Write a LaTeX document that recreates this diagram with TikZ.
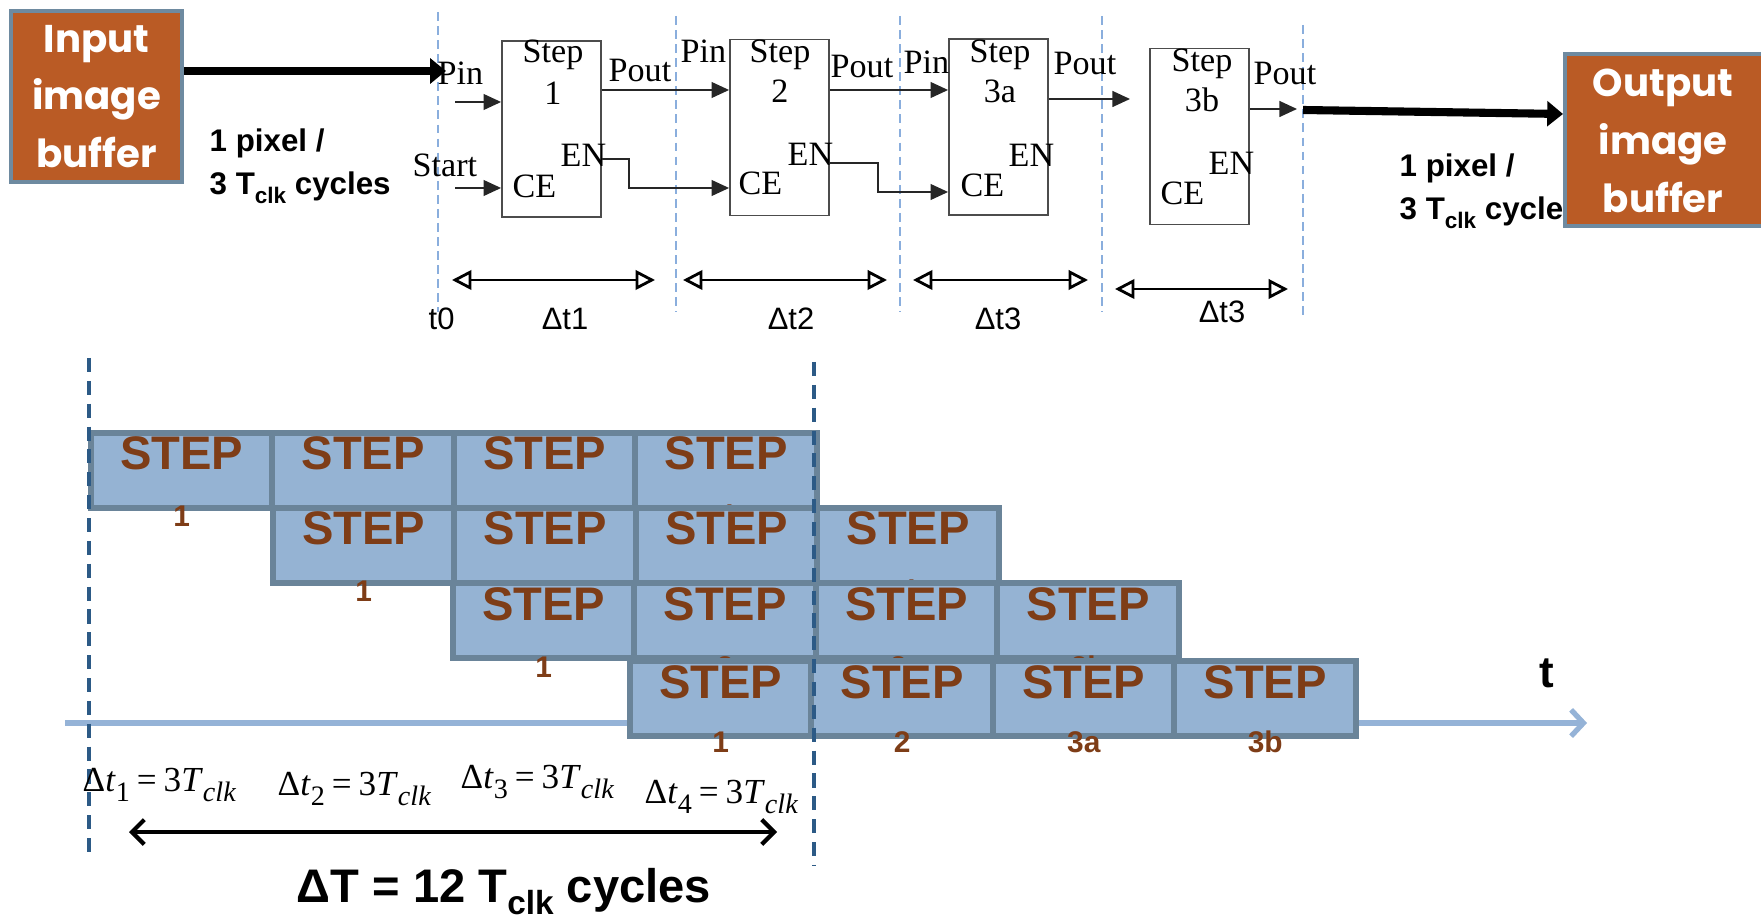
\documentclass[tikz,border=0pt]{standalone}
\usepackage{fontspec}
\setmainfont{Liberation Serif}
\setsansfont{Liberation Sans}
\newfontfamily\popfont{Poppins}
\usetikzlibrary{arrows.meta}

\definecolor{bufFill}{HTML}{BA5B25}
\definecolor{bufEdge}{HTML}{6E8AA0}
\definecolor{guide}{HTML}{8AAEDD}
\definecolor{guideDark}{HTML}{2C5A86}
\definecolor{blkFill}{HTML}{95B3D3}
\definecolor{blkEdge}{HTML}{6A8499}
\definecolor{stepBrown}{HTML}{7E3D17}
\definecolor{axisBlue}{HTML}{95B3D7}

% lowered, smaller text for subscripts: depth, size, text
\newcommand\lowered[3]{\raisebox{-#1}{\fontsize{#2}{#2}\selectfont #3}}
% one timing equation: index
\newcommand\stageeq[1]{Δ\textit{t}\lowered{3pt}{8pt}{#1}\hspace{0.2em}=\hspace{0.2em}3\textit{T}\lowered{3pt}{8pt}{\textit{clk}}}

\begin{document}
\begin{tikzpicture}[x=0.01cm, y=-0.01cm,
  buf/.style={draw=bufEdge, line width=1.1pt, fill=bufFill, inner sep=0pt},
  buftxt/.style={text=white, font=\popfont\bfseries\fontsize{11}{16.4}\selectfont, align=center, inner sep=0pt},
  stepbox/.style={draw=black!70, line width=0.5pt, minimum width=0.99cm, minimum height=1.76cm, inner sep=0pt},
  ser/.style={font=\fontsize{9.7}{12}\selectfont, inner sep=0pt},
  sig/.style={line width=0.5pt, draw=black!85, -{Triangle[length=5pt,width=4.5pt]}},
  bus/.style={line width=2.3pt, -{Triangle[length=4.5pt,width=7pt]}},
  guideline/.style={draw=guide, line width=0.5pt, dash pattern=on 2.5pt off 1.5pt},
  span/.style={line width=0.8pt, {Triangle[open,length=5.5pt,width=5.5pt]}-{Triangle[open,length=5.5pt,width=5.5pt]}},
  rate/.style={font=\sffamily\bfseries\fontsize{8.9}{10}\selectfont, inner sep=0pt, anchor=base west},
  dlab/.style={font=\sffamily\fontsize{8.8}{10}\selectfont, inner sep=0pt, anchor=base},
  blk/.style={draw=blkEdge, fill=blkFill, line width=1.7pt, minimum width=1.815cm, minimum height=0.75cm, inner sep=0pt},
  steptxt/.style={text=stepBrown, font=\sffamily\bfseries\fontsize{13.4}{15}\selectfont, inner sep=0pt, anchor=base},
  numtxt/.style={text=stepBrown, font=\sffamily\bfseries\fontsize{8.5}{10}\selectfont, inner sep=0pt, anchor=base},
  eq/.style={font=\fontsize{10}{12}\selectfont, inner sep=0pt, anchor=base west},
  fence/.style={draw=guideDark, line width=0.9pt, dash pattern=on 4pt off 2.5pt},
  timeaxis/.style={draw=axisBlue, line width=1.5pt, -{Straight Barb[length=3.5pt,width=7.5pt]}},
  total/.style={line width=1.2pt, {Straight Barb[length=3.5pt,width=7pt]}-{Straight Barb[length=3.5pt,width=7pt]}},
]
\clip (0,0) rectangle (1761,916);

% ---------- pipeline stages ----------
\foreach \gx/\gy/\gz in {438/12/312, 676/16/312, 900/16/312, 1102/16/312, 1303/25/320}
  \draw[guideline] (\gx,\gy) -- (\gx,\gz);

\node[stepbox] (s1) at (551.5,129) {};
\node[stepbox] (s2) at (779.5,127.5) {};
\node[stepbox] (s3a) at (998.5,127) {};
\node[stepbox] (s3b) at (1199.5,136.5) {};

\node[ser, anchor=base] (ttlA) at (553,63) {Step};
\node[ser, anchor=base] (numA) at (553,105) {1};
\node[ser, anchor=base] (ttlB) at (780,63) {Step};
\node[ser, anchor=base] (numB) at (780,103) {2};
\node[ser, anchor=base] (ttlC) at (1000,63) {Step};
\node[ser, anchor=base] (numC) at (1000,103) {3a};
\node[ser, anchor=base] (ttlD) at (1202,72) {Step};
\node[ser, anchor=base] (numD) at (1202,112) {3b};

\node[ser, anchor=base west] (enA) at (560,167) {EN};
\node[ser, anchor=base west] (ceA) at (512,198) {CE};
\node[ser, anchor=base west] (enB) at (787,166) {EN};
\node[ser, anchor=base west] (ceB) at (738,195) {CE};
\node[ser, anchor=base west] (enC) at (1008,167) {EN};
\node[ser, anchor=base west] (ceC) at (960,197) {CE};
\node[ser, anchor=base west] (enD) at (1208,175) {EN};
\node[ser, anchor=base west] (ceD) at (1160,205) {CE};

\node[ser, anchor=base west] (pinA) at (437,85) {Pin};
\node[ser, anchor=base west] (startA) at (412,177) {Start};
\node[ser, anchor=base west] (poutA) at (608,82) {Pout};
\node[ser, anchor=base west] (pinB) at (680,63) {Pin};
\node[ser, anchor=base west] (poutB) at (830,78) {Pout};
\node[ser, anchor=base west] (pinC) at (903,74) {Pin};
\node[ser, anchor=base west] (poutC) at (1053,75) {Pout};
\node[ser, anchor=base west] (poutD) at (1253,85) {Pout};

% signal wiring
\coordinate (in1) at (455,102);
\coordinate (go1) at (455,188);
\draw[sig] (in1) -- (s1.west |- in1);
\draw[sig] (go1) -- (s1.west |- go1);
\draw[sig] (s1.east |- 0,90) -- (s2.west |- 0,90);
\draw[sig] (s1.east |- 0,159) -- (629,159) -- (629,188) -- (s2.west |- 0,188);
\draw[sig] (s2.east |- 0,90) -- (s3a.west |- 0,90);
\draw[sig] (s2.east |- 0,163) -- (878,163) -- (878,192) -- (s3a.west |- 0,192);
\coordinate (out3a) at (1130,99);
\draw[sig] (s3a.east |- out3a) -- (out3a);
\coordinate (out3b) at (1297,109);
\draw[sig] (s3b.east |- out3b) -- (out3b);

% stage durations
\draw[span] (452,280) -- (655,280);
\draw[span] (683,280) -- (887,280);
\draw[span] (913,280) -- (1088,280);
\draw[span] (1115,289) -- (1288,289);
\node[dlab, anchor=base west] (t0) at (428,330) {t0};
\node[dlab] (dt1) at (565,330) {Δt1};
\node[dlab] (dt2) at (791,330) {Δt2};
\node[dlab] (dt3) at (998,330) {Δt3};
\node[dlab] (dt4) at (1222,323) {Δt3};

% ---------- image buffers ----------
\node[buf, buftxt, minimum width=1.71cm, minimum height=1.71cm] (inbuf) at (96.5,96.5) {Input\\image\\buffer};
\node[rate] (rateA1) at (209,152) {1 pixel /};
\node[rate] (rateA2) at (209,195) {3 T\lowered{2.5pt}{6.4pt}{clk} cycles};
\node[rate] (rateB1) at (1399,177) {1 pixel /};
\node[rate] (rateB2) at (1399,220) {3 T\lowered{2.5pt}{6.4pt}{clk} cycles};
\node[buf, minimum width=2.2cm, minimum height=1.72cm] (outbuf) at (1675,140) {};
\node[buftxt] (outtxt) at (1663,141) {Output\\image\\buffer};

\coordinate (busIn) at (446,71);
\draw[bus] (inbuf.east |- busIn) -- (busIn);
\coordinate (busOut) at (1303,110);
\coordinate (busEnd) at (1563,114);
\draw[bus] (busOut) -- (outbuf.west |- busEnd);

% ---------- pipelined schedule ----------
\coordinate (ax0) at (65,723);
\coordinate (ax1) at (1587,723);
\draw[timeaxis] (ax0) -- (ax1);

\foreach \r/\xs/\yt/\nb in {1/91/433/94, 2/273/508/94, 3/453/583/94, 4/630/661/91} {
  \foreach \c/\num in {0/1, 1/2, 2/3a, 3/3b} {
    \pgfmathsetmacro\xc{\xs+\c*181.5+90.75}
    \node[blk] (b\r\c) at (\xc,\yt+37.5) {};
    \node[steptxt] (st\r\c) at (\xc,\yt+37) {STEP};
    \node[numtxt] (n\r\c) at (\xc,\yt+\nb) {\num};
  }
}

\draw[fence] (89,358) -- (89,858);
\draw[fence] (814,362) -- (814,866);

\node[eq] (eq1) at (82,791) {\stageeq{1}};
\node[eq] (eq2) at (277,795) {\stageeq{2}};
\node[eq] (eq3) at (460,788) {\stageeq{3}};
\node[eq] (eq4) at (644,803) {\stageeq{4}};

\coordinate (spanL) at (129,832);
\coordinate (spanR) at (777,832);
\draw[total] (spanL) -- (spanR);
\node[font=\sffamily\bfseries\fontsize{13.4}{16}\selectfont, inner sep=0pt, anchor=base west] (sum) at (296,902) {ΔT = 12 T\lowered{3.5pt}{9.5pt}{clk} cycles};

\node[font=\sffamily\bfseries\fontsize{12.5}{14}\selectfont, inner sep=0pt, anchor=base west] (tlab) at (1539,687) {t};
\end{tikzpicture}
\end{document}
